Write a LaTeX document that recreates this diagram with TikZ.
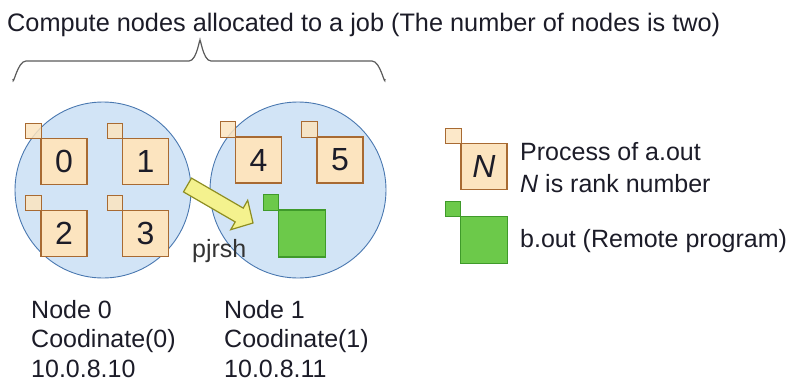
\documentclass[tikz,border=0pt]{standalone}
\usepackage{fontspec}
\setmainfont{Liberation Sans}
\definecolor{circfill}{HTML}{D2E4F6}
\definecolor{circline}{HTML}{4A78B0}
\definecolor{procfill}{HTML}{FCE4BF}
\definecolor{procline}{HTML}{A86A32}
\definecolor{greenfill}{HTML}{6CC94A}
\definecolor{greenline}{HTML}{3F9A2A}
\definecolor{arrfill}{HTML}{F4F28E}
\definecolor{arrline}{HTML}{8E8E22}
\definecolor{txt}{HTML}{1C1C28}
\definecolor{bracecol}{HTML}{5A5A5A}
\tikzset{
  nodecirc/.style={circle, draw=circline, fill=circfill, line width=0.9pt, minimum size=176pt, inner sep=0pt},
  bigproc/.style={draw=procline, fill=procfill, line width=1.2pt, minimum width=46pt, minimum height=46pt, inner sep=0pt, font=\fontsize{32}{32}\selectfont, text=txt},
  smallproc/.style={draw=procline, fill=procfill, line width=1.2pt, minimum size=15.5pt, inner sep=0pt, fill opacity=0.85},
  biggreen/.style={draw=greenline, fill=greenfill, line width=1.2pt, minimum width=47pt, minimum height=47pt, inner sep=0pt},
  smallgreen/.style={draw=greenline, fill=greenfill, line width=1.2pt, minimum size=15.5pt, inner sep=0pt},
  lbl/.style={inner sep=0pt, font=\fontsize{25}{30}\selectfont, text=txt},
}
\begin{document}
\begin{tikzpicture}[x=1pt,y=-1pt]
\useasboundingbox (0,0) rectangle (792,383);
% title and brace
\node[lbl, anchor=base west, font=\fontsize{25.3}{30}\selectfont] (title) at (7,31) {Compute nodes allocated to a job (The number of nodes is two)};
\draw[bracecol, line width=1.2pt] (13,79) to[out=-90,in=180] (26,61) -- (189,61) to[out=0,in=90] (200,42) to[out=90,in=180] (211,61) -- (372,61) to[out=0,in=-90] (385,79);
% compute node circles
\node[nodecirc] (c0) at (103,190) {};
\node[nodecirc] (c1) at (298,190) {};
% process boxes
\node[bigproc] (b0) at (64,161.5) {0};
\node[bigproc] (b1) at (145.5,161.5) {1};
\node[bigproc] (b2) at (64,233.5) {2};
\node[bigproc] (b3) at (145.5,233.5) {3};
\node[bigproc] (b4) at (258.5,160) {4};
\node[bigproc] (b5) at (340,160) {5};
\foreach \b in {b0,b1,b2,b3,b4,b5}
  \node[smallproc, anchor=south east] (s\b) at ([shift={(1.5,1.5)}]\b.north west) {};
% remote program
\node[biggreen] (g) at (302,233.5) {};
\node[smallgreen, anchor=south east] (gs) at ([shift={(1.5,1.5)}]g.north west) {};
% pjrsh arrow
\draw[arrline, fill=arrfill, line width=1.2pt, line join=miter]
  (191.5,178.1) -- (243.2,208.1) -- (247.7,200.3) -- (253,223) -- (230.7,229.7) -- (235.2,221.9) -- (183.5,191.9) -- cycle;
\node[lbl, anchor=base west, text=black!80] (pj) at (192,257) {pjrsh};
% node labels
\node[lbl, anchor=base west] (n0a) at (31,318) {Node 0};
\node[lbl, anchor=base west] (n0b) at (31,347.5) {Coodinate(0)};
\node[lbl, anchor=base west] (n0c) at (31,377) {10.0.8.10};
\node[lbl, anchor=base west] (n1a) at (224,318) {Node 1};
\node[lbl, anchor=base west] (n1b) at (224,347.5) {Coodinate(1)};
\node[lbl, anchor=base west] (n1c) at (224,377) {10.0.8.11};
% legend
\node[bigproc, font=\fontsize{32}{32}\selectfont\itshape] (lb) at (484,166.5) {N};
\node[smallproc, anchor=south east] (ls) at ([shift={(1.5,1.5)}]lb.north west) {};
\node[biggreen] (lg) at (484,240) {};
\node[smallgreen, anchor=south east] (lgs) at ([shift={(1.5,1.5)}]lg.north west) {};
\node[lbl, anchor=base west] (l1) at (520,160) {Process of a.out};
\node[lbl, anchor=base west] (l2) at (520,192) {\textit{N} is rank number};
\node[lbl, anchor=base west] (l3) at (520,247) {b.out (Remote program)};
\end{tikzpicture}
\end{document}
